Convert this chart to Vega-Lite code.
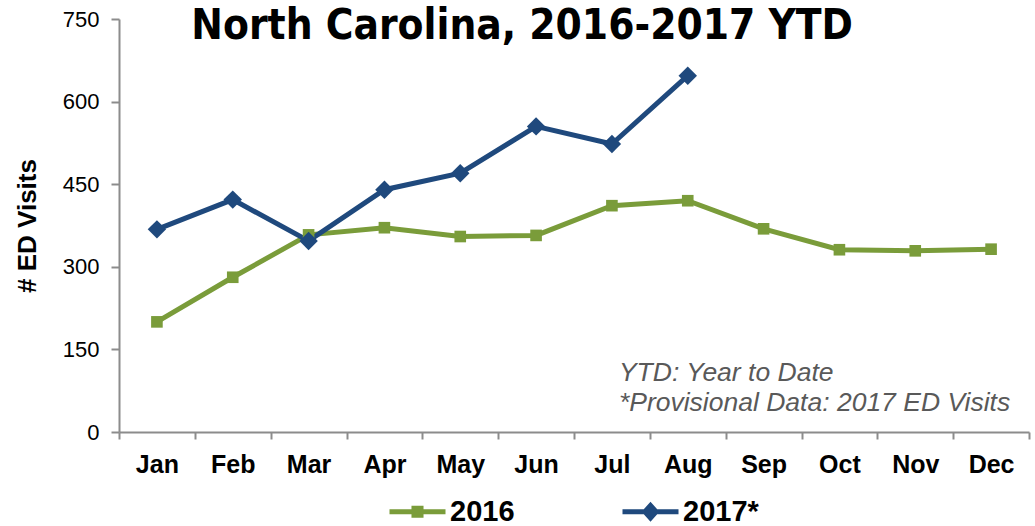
{
  "$schema": "https://vega.github.io/schema/vega-lite/v6.json",
  "width": 910,
  "height": 413,
  "padding": {"left": 14, "top": 5, "right": 5, "bottom": 0},
  "background": "white",
  "title": {
    "text": "North Carolina, 2016-2017 YTD",
    "font": "DejaVu Sans Condensed, sans-serif",
    "fontSize": 42,
    "fontWeight": "bold",
    "color": "black",
    "anchor": "middle",
    "frame": "bounds",
    "baseline": "alphabetic",
    "offset": -22,
    "dy": 51
  },
  "datasets": {
    "visits": [
      {"month": "Jan", "year": "2016", "visits": 200},
      {"month": "Feb", "year": "2016", "visits": 281},
      {"month": "Mar", "year": "2016", "visits": 358},
      {"month": "Apr", "year": "2016", "visits": 371},
      {"month": "May", "year": "2016", "visits": 355},
      {"month": "Jun", "year": "2016", "visits": 357},
      {"month": "Jul", "year": "2016", "visits": 411},
      {"month": "Aug", "year": "2016", "visits": 420},
      {"month": "Sep", "year": "2016", "visits": 369},
      {"month": "Oct", "year": "2016", "visits": 331},
      {"month": "Nov", "year": "2016", "visits": 329},
      {"month": "Dec", "year": "2016", "visits": 332},
      {"month": "Jan", "year": "2017*", "visits": 368},
      {"month": "Feb", "year": "2017*", "visits": 422},
      {"month": "Mar", "year": "2017*", "visits": 347},
      {"month": "Apr", "year": "2017*", "visits": 440},
      {"month": "May", "year": "2017*", "visits": 470},
      {"month": "Jun", "year": "2017*", "visits": 555},
      {"month": "Jul", "year": "2017*", "visits": 523},
      {"month": "Aug", "year": "2017*", "visits": 647}
    ],
    "notes": [
      {"month": "Jul", "visits": 92, "text": "YTD: Year to Date"},
      {"month": "Jul", "visits": 38, "text": "*Provisional Data: 2017 ED Visits"}
    ]
  },
  "data": {"name": "visits"},
  "encoding": {
    "x": {
      "field": "month",
      "type": "nominal",
      "sort": ["Jan","Feb","Mar","Apr","May","Jun","Jul","Aug","Sep","Oct","Nov","Dec"],
      "scale": {"type": "band", "domain": ["Jan","Feb","Mar","Apr","May","Jun","Jul","Aug","Sep","Oct","Nov","Dec"], "paddingInner": 0, "paddingOuter": 0},
      "axis": {
        "title": null,
        "labelAngle": 0,
        "labelFont": "Liberation Sans",
        "labelFontSize": 25,
        "labelFontWeight": "bold",
        "labelColor": "black",
        "labelPadding": 13,
        "tickBand": "extent",
        "tickSize": 7,
        "tickColor": "#8c8c8c",
        "tickWidth": 2,
        "domainColor": "#8c8c8c",
        "domainWidth": 2,
        "grid": false
      }
    },
    "y": {
      "field": "visits",
      "type": "quantitative",
      "scale": {"domain": [0, 750], "nice": false},
      "axis": {
        "title": "# ED Visits",
        "titleFont": "Liberation Sans",
        "titleFontSize": 26,
        "titleFontWeight": "bold",
        "titleColor": "black",
        "titlePadding": 22,
        "values": [0, 150, 300, 450, 600, 750],
        "labelFont": "Liberation Sans",
        "labelFontSize": 22,
        "labelColor": "black",
        "labelPadding": 12,
        "tickSize": 8,
        "tickColor": "#8c8c8c",
        "tickWidth": 2,
        "domainColor": "#8c8c8c",
        "domainWidth": 2,
        "grid": false
      }
    }
  },
  "layer": [
    {
      "transform": [{"filter": "datum.year == '2016'"}],
      "mark": {"type": "line", "strokeWidth": 5, "color": "#7A9C3A"}
    },
    {
      "transform": [{"filter": "datum.year == '2017*'"}],
      "mark": {"type": "line", "strokeWidth": 5, "color": "#1F497D"}
    },
    {
      "transform": [{"filter": "datum.year == '2016'"}],
      "mark": {"type": "point", "shape": "square", "filled": true, "opacity": 1, "size": 135, "color": "#7A9C3A"}
    },
    {
      "transform": [{"filter": "datum.year == '2017*'"}],
      "mark": {"type": "point", "shape": "diamond", "filled": true, "opacity": 1, "size": 340, "color": "#1F497D"}
    },
    {
      "transform": [{"filter": "datum.visits < 0"}],
      "mark": {"type": "point", "filled": true, "opacity": 1},
      "encoding": {
        "color": {
          "field": "year",
          "type": "nominal",
          "scale": {"domain": ["2016", "2017*"], "range": ["#7A9C3A", "#1F497D"]},
          "legend": {"title": null, "orient": "none", "legendX": 284, "legendY": 478}
        },
        "shape": {
          "field": "year",
          "type": "nominal",
          "scale": {
            "domain": ["2016", "2017*"],
            "range": [
              "M-2,-0.18H2V0.18H-2Z M-0.43,-0.43H0.43V0.43H-0.43Z",
              "M-2,-0.18H2V0.18H-2Z M0,-0.72L0.64,0L0,0.72L-0.64,0Z"
            ]
          },
          "legend": {"title": null, "orient": "none", "legendX": 284, "legendY": 478}
        }
      }
    },
    {
      "data": {"name": "notes"},
      "mark": {
        "type": "text",
        "align": "left",
        "baseline": "alphabetic",
        "dx": 7,
        "font": "Liberation Sans",
        "fontSize": 26.5,
        "fontStyle": "italic",
        "color": "#595959"
      },
      "encoding": {
        "text": {"field": "text", "type": "nominal"}
      }
    }
  ],
  "config": {
    "view": {"stroke": null},
    "legend": {
      "direction": "horizontal",
      "labelFont": "Liberation Sans",
      "labelFontSize": 29,
      "labelFontWeight": "bold",
      "labelColor": "black",
      "symbolSize": 784,
      "symbolStrokeWidth": 0,
      "labelOffset": 18,
      "columnPadding": 107,
      "padding": 0
    }
  }
}
